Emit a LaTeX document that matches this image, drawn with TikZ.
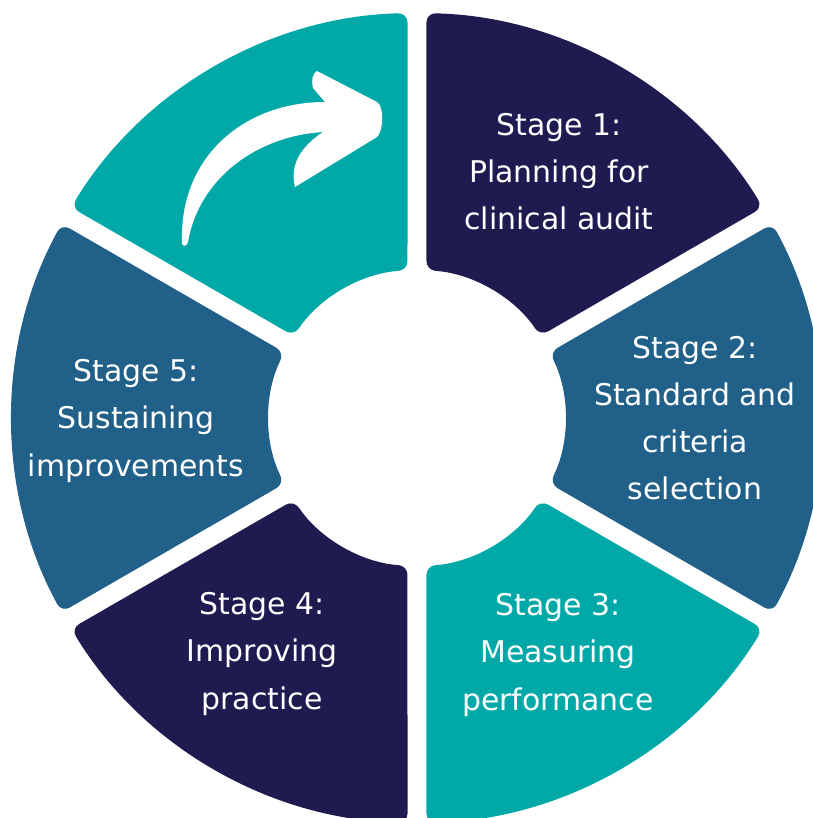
\documentclass[tikz,border=0pt]{standalone}
\usepackage{fontspec}
\setmainfont{DejaVu Sans}
\usepackage{tikz,xcolor}

\definecolor{auditnavy}{HTML}{1F1A50}
\definecolor{auditblue}{HTML}{216089}
\definecolor{auditteal}{HTML}{00A9A7}

\begin{document}
\begin{tikzpicture}[x=0.1mm, y=0.1mm,
    stagetext/.style={text=white, align=center, inner sep=0pt,
        font=\fontsize{8.5pt}{13.4pt}\selectfont}]

    \useasboundingbox (-417,-400) rectangle (396,418);

    % Ring of six segments, 19 units apart
    \foreach \a/\col in {30/auditnavy, -30/auditblue, -90/auditteal,
                         -150/auditnavy, 150/auditblue, 90/auditteal} {
        \fill[\col, rounded corners=2.6pt]
            ({\a+1.97}:276) -- ({\a+1.344}:405)
            arc[start angle={\a+1.344}, end angle={\a+58.656}, radius=405]
            -- ({\a+56.32}:148)
            arc[start angle={\a+56.32}, end angle={\a+3.68}, radius=148]
            -- cycle;
    }

    % Curved arrow
    \fill[white] (-235,175) .. controls (-238,262) and (-172,316) .. (-92,316)
        -- (-104,330) .. controls (-106,338) and (-104,345) .. (-100,347)
        -- (-40,316) .. controls (-33,312) and (-33,288) .. (-40,281)
        -- (-122,231) .. controls (-127,252) and (-118,270) .. (-94,286)
        .. controls (-160,282) and (-218,240) .. (-229,176)
        .. controls (-231,171) and (-234,171) .. cycle;

    % Stage labels
    \node[stagetext] (stage1) at (142,246) {Stage 1:\\Planning for\\clinical audit};
    \node[stagetext] (stage2) at (278,0) {Stage 2:\\Standard and\\criteria\\selection};
    \node[stagetext] (stage3) at (141,-237) {Stage 3:\\Measuring\\performance};
    \node[stagetext] (stage4) at (-155,-236) {Stage 4:\\Improving\\practice};
    \node[stagetext] (stage5) at (-281,-3) {Stage 5:\\Sustaining\\improvements};

\end{tikzpicture}
\end{document}
